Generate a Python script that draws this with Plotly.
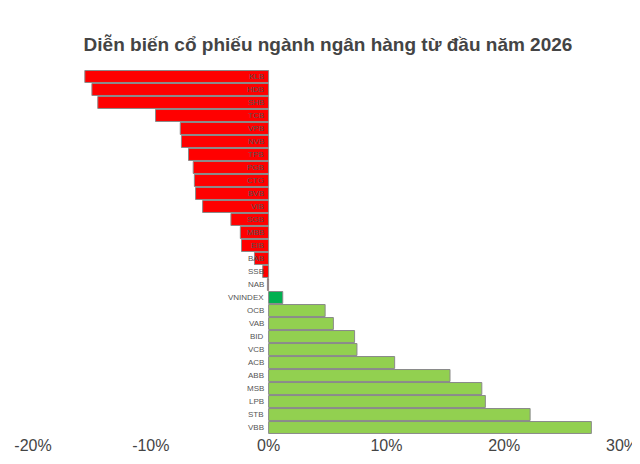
import plotly.graph_objects as go

banks = ["KLB", "HDB", "SHB", "TCB", "VPB", "NVB", "TPB", "PGB", "CTG", "BVB",
         "VIB", "SGB", "MBB", "EIB", "BAB", "SSB", "NAB", "VNINDEX", "OCB", "VAB",
         "BID", "VCB", "ACB", "ABB", "MSB", "LPB", "STB", "VBB"]
changes = [-15.6, -15.0, -14.5, -9.6, -7.5, -7.4, -6.8, -6.4, -6.3, -6.2,
           -5.6, -3.2, -2.4, -2.3, -1.2, -0.5, -0.1, 1.2, 4.8, 5.5,
           7.3, 7.5, 10.7, 15.4, 18.1, 18.4, 22.2, 27.4]
tick_vals = [-20, -10, 0, 10, 20, 30]
tick_text = ["-20%", "-10%", "0%", "10%", "20%", "30%"]

colors = []
for name, v in zip(banks, changes):
    if name == "VNINDEX":
        colors.append("#00B050")
    elif v < 0:
        colors.append("#FF0000")
    else:
        colors.append("#92D050")

fig = go.Figure(go.Bar(
    x=changes, y=banks, orientation="h",
    marker=dict(color=colors, line=dict(color="#8a8a8a", width=1)),
))

for name, v in zip(banks, changes):
    fig.add_annotation(x=0, y=name, text=name, showarrow=False,
                       xanchor="right", xshift=-3,
                       font=dict(size=8, color="#555555", family="Helvetica, Arial"))

fig.update_layout(
    width=640, height=464,
    paper_bgcolor="white", plot_bgcolor="white",
    margin=dict(l=25, r=26, t=62, b=38),
    bargap=0.08,
    showlegend=False,
    title=dict(text="<b>Diễn biến cổ phiếu ngành ngân hàng từ đầu năm 2026</b>",
               x=0.5, y=0.935, xanchor="center",
               font=dict(size=19, color="#444444", family="Helvetica, Arial")),
)
fig.update_xaxes(range=[-20, 30], tickvals=tick_vals, ticktext=tick_text,
                 showgrid=False, zeroline=False, automargin=False,
                 tickfont=dict(size=16, color="#444444", family="Helvetica, Arial"))
fig.update_yaxes(categoryorder="array", categoryarray=banks[::-1],
                 showticklabels=False, showgrid=False, automargin=False)

fig.write_html("out.html")
